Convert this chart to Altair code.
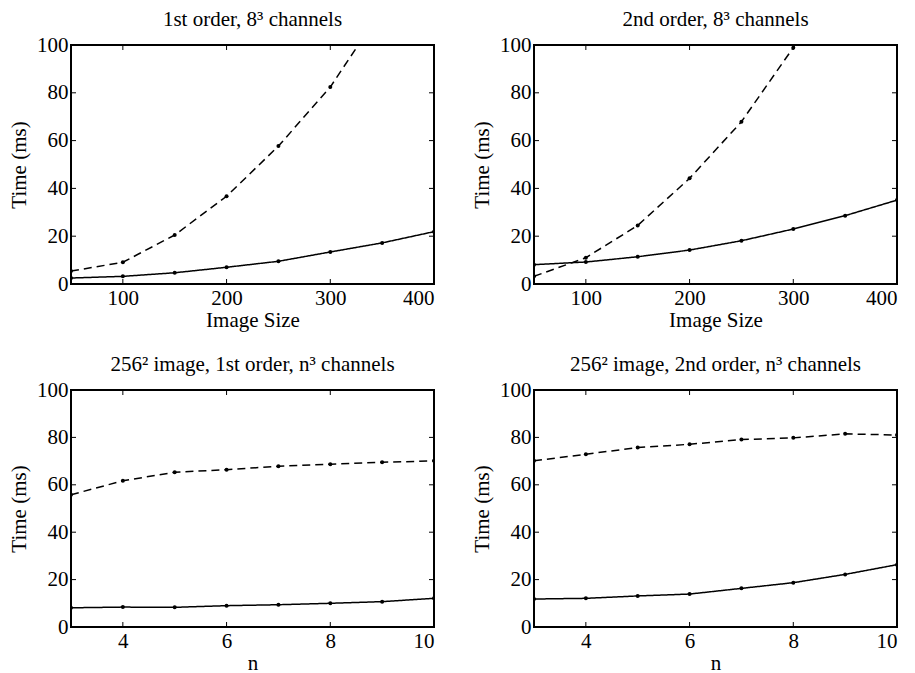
import altair as alt
import pandas as pd

# ---- data ----
size_x = [50, 100, 150, 200, 250, 300, 350, 400]
p1_solid = [2.5, 3.2, 4.7, 7.0, 9.5, 13.4, 17.2, 21.9]
p1_dashed = [5.4, 9.1, 20.5, 36.7, 57.7, 82.4, 115.0, 152.0]
p2_solid = [8.1, 9.2, 11.4, 14.2, 18.1, 23.0, 28.6, 35.1]
p2_dashed = [3.2, 11.0, 24.5, 44.2, 67.9, 98.9, 137.0, 180.0]

n_x = [3, 4, 5, 6, 7, 8, 9, 10]
p3_solid = [8.1, 8.4, 8.3, 9.0, 9.4, 10.0, 10.7, 12.1]
p3_dashed = [55.8, 61.7, 65.3, 66.4, 67.8, 68.7, 69.5, 70.1]
p4_solid = [11.8, 12.1, 13.1, 13.9, 16.3, 18.7, 22.2, 26.3]
p4_dashed = [70.1, 72.9, 75.7, 77.1, 79.1, 79.8, 81.5, 81.0]

size_ticks = [100, 200, 300, 400]
n_ticks = [4, 6, 8, 10]
y_ticks = [0, 20, 40, 60, 80, 100]

titles = [
    "1st order, 8\u00b3 channels",
    "2nd order, 8\u00b3 channels",
    "256\u00b2 image, 1st order, n\u00b3 channels",
    "256\u00b2 image, 2nd order, n\u00b3 channels",
]

FONT = "Liberation Serif, Times New Roman, Times, serif"
FS = 21
W = 363
TICK = 5


def panel(xs, solid, dashed, xdom, xticks, title, xtitle, H):
    df = pd.DataFrame({
        "x": xs + xs,
        "t": solid + dashed,
        "s": ["solid"] * len(xs) + ["dashed"] * len(xs),
    })
    xsc = alt.Scale(domain=xdom, nice=False, zero=False)
    ysc = alt.Scale(domain=[0, 100], nice=False, zero=False)
    common = dict(tickSize=0, domain=False, grid=False, labelFont=FONT, titleFont=FONT,
                  labelFontSize=FS, titleFontSize=FS, labelColor="black",
                  titleColor="black", titleFontWeight="normal")
    xax = alt.Axis(values=xticks, title=xtitle, labelPadding=3, titlePadding=1, **common)
    yax = alt.Axis(values=y_ticks, title="Time (ms)", labelPadding=3, titlePadding=7, **common)
    base = alt.Chart(df)
    lines = base.mark_line(color="black", strokeWidth=1.5, clip=True).encode(
        x=alt.X("x:Q", scale=xsc, axis=xax),
        y=alt.Y("t:Q", scale=ysc, axis=yax),
        strokeDash=alt.StrokeDash("s:N", scale=alt.Scale(domain=["solid", "dashed"],
                                                         range=[[1, 0], [8, 5]]), legend=None),
        detail="s:N",
    )
    pts = base.mark_circle(color="black", size=16, opacity=1, clip=True).encode(
        x=alt.X("x:Q", scale=xsc, axis=xax),
        y=alt.Y("t:Q", scale=ysc, axis=yax),
    )
    xt = alt.Chart(pd.DataFrame({"x": xticks}))
    yt = alt.Chart(pd.DataFrame({"t": y_ticks}))
    xt_bot = xt.mark_rule(color="black", strokeWidth=1).encode(
        x=alt.X("x:Q", scale=xsc, axis=xax), y=alt.value(H), y2=alt.value(H - TICK))
    xt_top = xt.mark_rule(color="black", strokeWidth=1).encode(
        x=alt.X("x:Q", scale=xsc, axis=xax), y=alt.value(0), y2=alt.value(TICK))
    yt_l = yt.mark_rule(color="black", strokeWidth=1).encode(
        y=alt.Y("t:Q", scale=ysc, axis=yax), x=alt.value(0), x2=alt.value(TICK))
    yt_r = yt.mark_rule(color="black", strokeWidth=1).encode(
        y=alt.Y("t:Q", scale=ysc, axis=yax), x=alt.value(W), x2=alt.value(W - TICK))
    return alt.layer(lines, pts, xt_bot, xt_top, yt_l, yt_r).properties(
        width=W, height=H,
        title=alt.TitleParams(title, font=FONT, fontSize=FS, fontWeight="normal",
                              color="black", offset=4),
    )


c1 = panel(size_x, p1_solid, p1_dashed, [50, 400], size_ticks, titles[0], "Image Size", 239)
c2 = panel(size_x, p2_solid, p2_dashed, [50, 400], size_ticks, titles[1], "Image Size", 239)
c3 = panel(n_x, p3_solid, p3_dashed, [3, 10], n_ticks, titles[2], "n", 237)
c4 = panel(n_x, p4_solid, p4_dashed, [3, 10], n_ticks, titles[3], "n", 237)

chart = alt.concat(c1, c2, c3, c4, columns=2,
                   spacing={"row": 106, "column": 100}, bounds="flush").properties(
    padding={"left": 7, "top": 8, "right": 5, "bottom": 0},
    background="white",
).configure_view(
    stroke="black", strokeWidth=2
).configure_axis(
    labelFont=FONT, titleFont=FONT, labelFontSize=FS, titleFontSize=FS,
    labelColor="black", titleColor="black", titleFontWeight="normal",
)

chart.save("out.html", embed_options={"renderer": "svg", "actions": False})
